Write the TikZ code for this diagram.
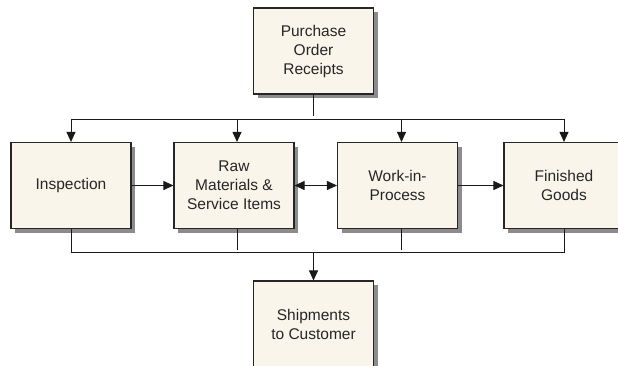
\documentclass[tikz,border=0pt]{standalone}
\usepackage{fontspec}
\setmainfont{Liberation Sans}
\usetikzlibrary{arrows.meta,shadows}
\definecolor{boxcream}{RGB}{249,245,235}
\definecolor{boxshade}{RGB}{140,140,140}
\tikzset{
  stockbox/.style={draw=black!85, line width=1.1pt, fill=boxcream,
    minimum width=120pt, minimum height=86pt, align=center,
    font=\fontsize{15.5}{19}\selectfont, text=black!85,
    drop shadow={shadow xshift=4pt, shadow yshift=-4pt, fill=boxshade, opacity=1}},
  flow/.style={line width=0.9pt, draw=black!90},
  tip/.style={-{Triangle[length=10pt,width=9pt]}},
  tiptwo/.style={{Triangle[length=10pt,width=9pt]}-{Triangle[length=10pt,width=9pt]}},
}

\begin{document}
\begin{tikzpicture}[x=1pt,y=-1pt]
\useasboundingbox (0,0) rectangle (618,365);
\node[stockbox] (po) at (313.5,51) {Purchase\\Order\\Receipts};
\node[stockbox] (insp) at (71,185.5) {Inspection};
\node[stockbox] (raw) at (234,185.5) {Raw\\Materials \&\\Service Items};
\node[stockbox] (wip) at (397.5,185.5) {Work-in-\\Process};
\node[stockbox] (fin) at (564,185.5) {Finished\\Goods};
\node[stockbox] (ship) at (313.5,324) {Shipments\\to Customer};
% bus lines
\coordinate (topbus) at (313.5,119);
\coordinate (lowbus) at (313.5,252);
\coordinate (rawin) at ([xshift=3pt]raw.north);
\coordinate (rawout) at ([xshift=3pt]raw.south);
\coordinate (wipin) at ([xshift=4pt]wip.north);
\coordinate (wipout) at ([xshift=4pt]wip.south);
\draw[flow] (po.south) -- ([yshift=3pt]topbus);
\draw[flow] (topbus -| insp.north) -- (topbus -| fin.north);
\draw[flow,tip] (topbus -| insp.north) -- (insp.north);
\draw[flow,tip] (topbus -| rawin) -- (rawin);
\draw[flow,tip] (topbus -| wipin) -- (wipin);
\draw[flow,tip] (topbus -| fin.north) -- (fin.north);
% across the row
\draw[flow,tip] (insp.east) -- (raw.west);
\draw[flow,tiptwo] (raw.east) -- (wip.west);
\draw[flow,tip] (wip.east) -- (fin.west);
% to shipments
\draw[flow] (insp.south) -- (lowbus -| insp.south) -- (lowbus -| fin.south) -- (fin.south);
\draw[flow] (rawout) -- ([yshift=2pt]lowbus -| rawout);
\draw[flow] (wipout) -- ([yshift=2pt]lowbus -| wipout);
\draw[flow,tip] (lowbus) -- (ship.north);
\end{tikzpicture}
\end{document}
